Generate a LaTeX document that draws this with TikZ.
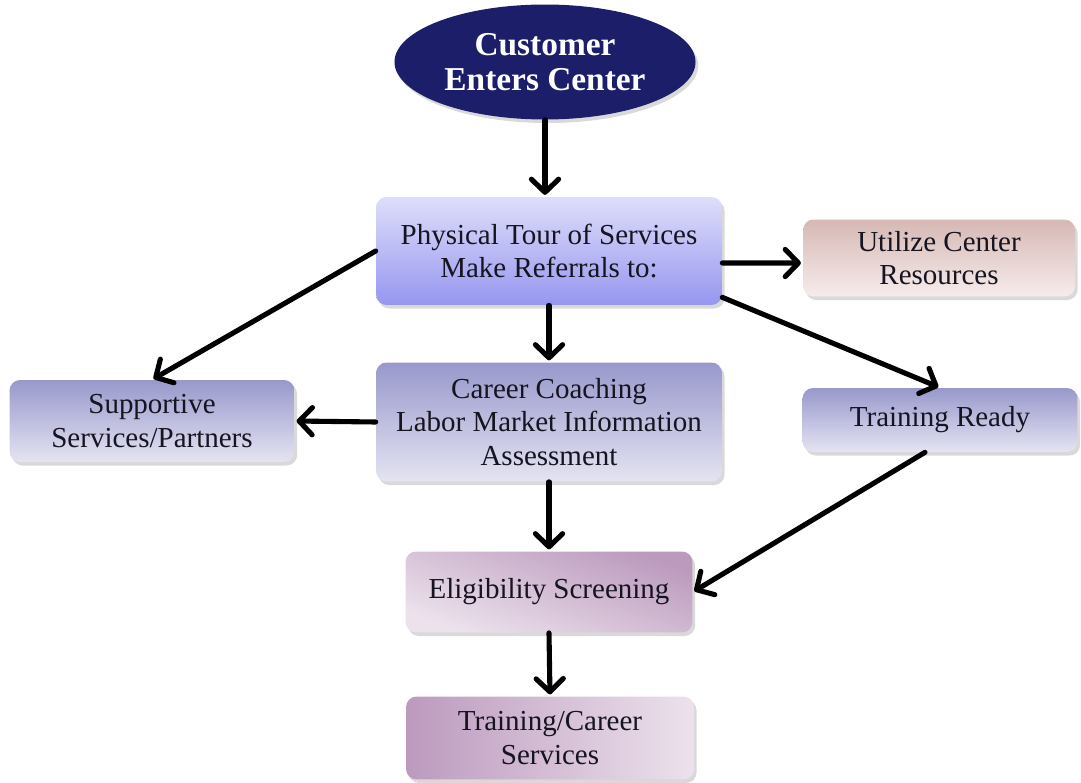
\documentclass[tikz,border=0pt]{standalone}
\usepackage{fontspec}
\setmainfont{Liberation Serif}
\usetikzlibrary{arrows.meta, shapes.geometric, shadows}

\definecolor{navy}{RGB}{28,30,105}
\definecolor{ink}{RGB}{22,20,32}
\definecolor{tourtop}{RGB}{222,222,250}
\definecolor{tourbot}{RGB}{150,150,240}
\definecolor{rosetop}{RGB}{214,184,180}
\definecolor{rosebot}{RGB}{246,236,236}
\definecolor{slatetop}{RGB}{152,152,204}
\definecolor{slatebot}{RGB}{228,228,242}
\definecolor{mauvedark}{RGB}{188,154,190}
\definecolor{mauvelight}{RGB}{236,226,236}

\begin{document}
\begin{tikzpicture}[x=0.02cm, y=-0.02cm,
    box/.style={rounded corners=6pt, align=center, text=ink,
        font=\fontsize{16.5}{19}\selectfont,
        drop shadow={opacity=0.3, shadow xshift=1.5pt, shadow yshift=-2pt}},
    flow/.style={line width=2.9pt, line cap=round, shorten >=1pt, -{Straight Barb[length=7.5pt, width=15.5pt, round]}}]
    \useasboundingbox (0,0) rectangle (1081,783);
    \node[ellipse, fill=navy, text=white, font=\fontsize{19}{20}\selectfont\bfseries, align=center, minimum width=5.88cm, minimum height=2.3cm, drop shadow={opacity=0.3, shadow xshift=1.5pt, shadow yshift=-2pt}] at (545,62) (enter) {Customer\\Enters Center};
    \node[box, top color=tourtop, bottom color=tourbot, minimum width=6.92cm, minimum height=2.16cm] at (549,251) (tour) {Physical Tour of Services\\Make Referrals to:};
    \node[box, top color=rosetop, bottom color=rosebot, minimum width=5.44cm, minimum height=1.54cm] at (939,258) (util) {Utilize Center\\Resources};
    \node[box, top color=slatetop, bottom color=slatebot, minimum width=5.7cm, minimum height=1.64cm] at (152,421) (supp) {Supportive\\Services/Partners};
    \node[box, top color=slatetop, bottom color=slatebot, minimum width=6.92cm, minimum height=2.38cm] at (549,422) (coach) {Career Coaching\\Labor Market Information\\Assessment};
    \node[box, top color=slatetop, bottom color=slatebot, minimum width=5.5cm, minimum height=1.28cm] at (940,420) (ready) {Training Ready};
    \node[box, top color=mauvedark, bottom color=mauvelight, shading angle=-20, minimum width=5.74cm, minimum height=1.62cm] at (549,592) (elig) {Eligibility Screening};
    \node[box, left color=mauvedark, right color=mauvelight, minimum width=5.76cm, minimum height=1.66cm] at (550,738) (career) {Training/Career\\Services};

    \draw[flow] (enter.south) -- (enter.south |- tour.north);
    \draw[flow] ([yshift=-0.24cm]tour.east) -- ([yshift=-0.1cm]util.west);
    \draw[flow] (tour.south) -- (coach.north);
    \draw[flow] (tour.west) -- (supp.north);
    \draw[flow] ([yshift=0.16cm]tour.south east) -- (ready.north);
    \draw[flow] (coach.west) -- (supp.east);
    \draw[flow] (coach.south) -- (elig.north);
    \draw[flow] ([xshift=-0.3cm]ready.south) -- (elig.east);
    \draw[flow] (elig.south) -- (career.north);
\end{tikzpicture}
\end{document}
